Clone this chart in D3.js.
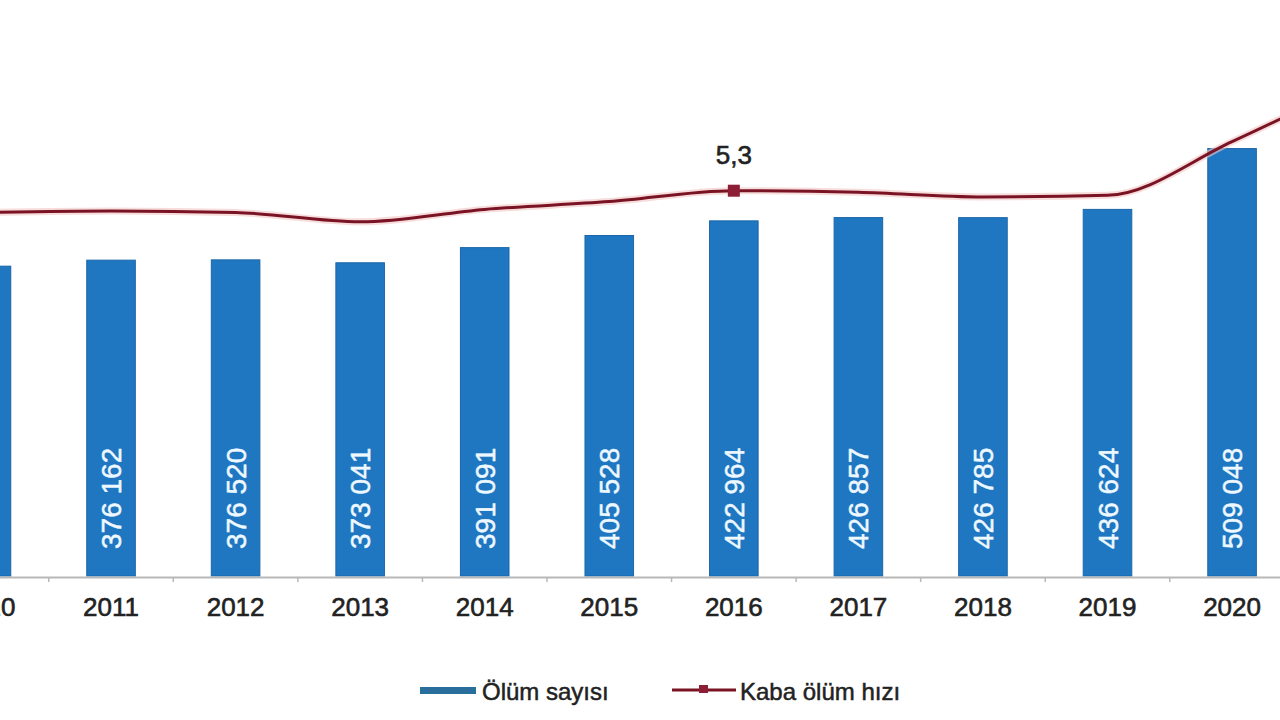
<!DOCTYPE html>
<html>
<head>
<meta charset="utf-8">
<script src="https://cdn.jsdelivr.net/npm/d3@7/dist/d3.min.js"></script>
<style>
  html, body { margin: 0; padding: 0; background: #fff; }
  svg { display: block; }
  text { font-family: "Liberation Sans", Arial, sans-serif; }
</style>
</head>
<body>
<svg id="chart" width="1280" height="720"></svg>
<script>
// ---- Data ----
const years = ["2010","2011","2012","2013","2014","2015","2016","2017","2018","2019","2020","2021"];
const deaths = [369000, 376162, 376520, 373041, 391091, 405528, 422964, 426857, 426785, 436624, 509048, 565611];
const crudeRate = [5.02, 5.04, 5.02, 4.90, 5.06, 5.16, 5.30, 5.28, 5.22, 5.24, 5.93, 6.70];
const labelledRateYear = "2016";
const legendLabels = ["Ölüm sayısı", "Kaba ölüm hızı"];

// ---- Layout ----
const baseY = 576;
const svg = d3.select("#chart");

const x = d3.scaleBand()
  .domain(years)
  .range([-75.8, 1418.9])
  .paddingInner(0.61)
  .paddingOuter(0.305);
const step = x.step();

const yBar = d3.scaleLinear().domain([0, 686000]).range([baseY, 0]);
const yRate = d3.scaleLinear().domain([0.35, 7.75]).range([baseY, 0]);

const barColor = "#1f77c2";
const lineColor = "#7a1424";
const fmt = d3.formatLocale({decimal: ",", thousands: " ", grouping: [3], currency: ["", ""]}).format(",d");

const data = years.map((yr, i) => ({year: yr, deaths: deaths[i], rate: crudeRate[i]}));

// Bars
svg.append("g").selectAll("rect")
  .data(data).join("rect")
  .attr("x", d => x(d.year))
  .attr("y", d => yBar(d.deaths))
  .attr("width", x.bandwidth())
  .attr("height", d => yBar(0) - yBar(d.deaths))
  .attr("fill", barColor)
  .attr("stroke", "#1b66a8")
  .attr("stroke-width", 1);

// Bar labels (rotated, white)
svg.append("g").selectAll("text")
  .data(data).join("text")
  .attr("transform", d => `translate(${x(d.year) + x.bandwidth()/2 + 10},${baseY - 27}) rotate(-90)`)
  .attr("text-anchor", "start")
  .attr("font-size", 28)
  .attr("fill", "#eef8ff")
  .attr("stroke", "#eef8ff")
  .attr("stroke-width", 0.5)
  .text(d => fmt(d.deaths));

// Axis
const axis = d3.axisBottom(x).tickSize(0).tickSizeOuter(0).tickPadding(21);
const gAxis = svg.append("g").attr("transform", `translate(0,${baseY + 1})`).call(axis);
gAxis.select(".domain").attr("stroke", "#b8b8b8").attr("stroke-width", 2);
gAxis.selectAll("text").attr("font-size", 26).attr("fill", "#222")
  .attr("stroke", "#222").attr("stroke-width", 0.6)
  .attr("font-family", "'Liberation Sans', Arial, sans-serif");

// Boundary ticks
svg.append("g").selectAll("line")
  .data(years).join("line")
  .attr("x1", d => x(d) - x.paddingInner() * step / 2)
  .attr("x2", d => x(d) - x.paddingInner() * step / 2)
  .attr("y1", baseY + 1)
  .attr("y2", baseY + 6)
  .attr("stroke", "#b8b8b8")
  .attr("stroke-width", 1.5);

// Rate line
const line = d3.line()
  .x(d => x(d.year) + x.bandwidth()/2)
  .y(d => yRate(d.rate))
  .curve(d3.curveMonotoneX);

svg.append("path")
  .datum(data)
  .attr("d", line)
  .attr("fill", "none")
  .attr("stroke", "#f2c4c4")
  .attr("stroke-width", 7)
  .attr("opacity", 0.6);
svg.append("path")
  .datum(data)
  .attr("d", line)
  .attr("fill", "none")
  .attr("stroke", lineColor)
  .attr("stroke-width", 3);

// Marker + label for labelled year
const lab = data.find(d => d.year === labelledRateYear);
const lx = x(lab.year) + x.bandwidth()/2, ly = yRate(lab.rate);
svg.append("rect")
  .attr("x", lx - 6).attr("y", ly - 6).attr("width", 12).attr("height", 12)
  .attr("fill", "#8c1f36");
svg.append("text")
  .attr("x", lx).attr("y", ly - 27)
  .attr("text-anchor", "middle")
  .attr("font-size", 26)
  .attr("fill", "#222")
  .attr("stroke", "#222").attr("stroke-width", 0.6)
  .text(d3.format(".1f")(lab.rate).replace(".", ","));

// Legend
const lg = svg.append("g");
lg.append("rect").attr("x", 420).attr("y", 687).attr("width", 56).attr("height", 7).attr("fill", "#2a6e9c");
lg.append("text").attr("x", 482).attr("y", 700).attr("font-size", 24).attr("fill", "#222")
  .attr("stroke", "#222").attr("stroke-width", 0.5).text(legendLabels[0]);
lg.append("line").attr("x1", 672).attr("x2", 736).attr("y1", 690).attr("y2", 690)
  .attr("stroke", lineColor).attr("stroke-width", 3);
lg.append("rect").attr("x", 699).attr("y", 685).attr("width", 9).attr("height", 8).attr("fill", "#8c1f36");
lg.append("text").attr("x", 740).attr("y", 700).attr("font-size", 24).attr("fill", "#222")
  .attr("stroke", "#222").attr("stroke-width", 0.5).text(legendLabels[1]);
</script>
</body>
</html>
